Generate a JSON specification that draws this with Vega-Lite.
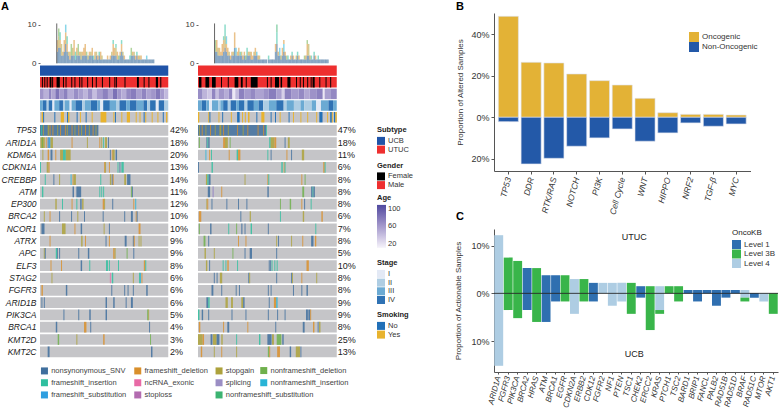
{"$schema":"https://vega.github.io/schema/vega-lite/v6.json","padding":{"left":1,"top":1,"right":0,"bottom":0},"background":"white",
"config":{"font":"Liberation Sans","view":{"stroke":null},"legend":{"symbolType":"square","labelFontSize":7.5,"labelColor":"#333","titleFontSize":7.5,"titleColor":"#222","titleFontWeight":"bold","symbolSize":64,"symbolStrokeWidth":0,"rowPadding":0.7,"labelOffset":3,"titlePadding":3,"symbolOpacity":1}},
"datasets":{
"barsL":[{"p":0.7,"b":3,"h":6,"t":"frameshift_deletion"},{"p":2.4,"b":4,"h":7,"t":"stopgain","h2":9,"t2":"nonframeshift_deletion"},{"p":4,"b":4,"h":6,"t":"frameshift_deletion","h2":8,"t2":"frameshift_insertion"},{"p":5.7,"b":2,"h":5,"t":"stopgain"},{"p":7.4,"b":2,"h":3,"t":"frameshift_deletion"},{"p":9,"b":3,"h":6,"t":"frameshift_deletion"},{"p":10.7,"b":5,"h":8,"t":"frameshift_deletion","h2":10,"t2":"nonframeshift_insertion"},{"p":12.4,"b":3,"h":5,"t":"frameshift_deletion","h2":7,"t2":"frameshift_insertion"},{"p":14,"b":2,"h":3,"t":"stopgain"},{"p":15.7,"b":1,"h":3,"t":"frameshift_deletion"},{"p":17.4,"b":2,"h":5,"t":"nonframeshift_deletion"},{"p":19,"b":2,"h":4,"t":"stopgain"},{"p":20.7,"b":2,"h":6,"t":"frameshift_deletion"},{"p":22.4,"b":1,"h":3,"t":"frameshift_insertion"},{"p":24,"b":2,"h":4,"t":"frameshift_deletion"},{"p":25.7,"b":2,"h":5,"t":"nonframeshift_deletion"},{"p":27.4,"b":2,"h":3,"t":"frameshift_deletion"},{"p":29,"b":1,"h":3,"t":"stopgain"},{"p":30.7,"b":2,"h":3,"t":"frameshift_deletion"},{"p":32.4,"b":2,"h":4,"t":"frameshift_deletion"},{"p":34,"b":2,"h":5,"t":"frameshift_deletion"},{"p":35.7,"b":2,"h":3,"t":"nonframeshift_deletion"},{"p":37.4,"b":1,"h":2,"t":"stopgain"},{"p":39,"b":2,"h":3,"t":"frameshift_deletion"},{"p":40.7,"b":2,"h":3,"t":"stopgain"},{"p":42.4,"b":2,"h":4,"t":"frameshift_deletion"},{"p":44,"b":1,"h":2,"t":"frameshift_insertion"},{"p":45.7,"b":1,"h":3,"t":"frameshift_deletion"},{"p":47.4,"b":2,"h":3,"t":"stopgain"},{"p":49,"b":1,"h":2,"t":"frameshift_deletion"},{"p":50.7,"b":2,"h":3,"t":"frameshift_insertion"},{"p":52.4,"b":1,"h":3,"t":"frameshift_deletion"},{"p":54,"b":1,"h":2,"t":"stopgain"},{"p":55.7,"b":1},{"p":57.4,"b":1},{"p":59,"b":1},{"p":60.7,"b":1,"h":2,"t":"frameshift_deletion"},{"p":62.4,"b":1},{"p":64,"b":1,"h":2,"t":"frameshift_deletion"},{"p":65.7,"b":2,"h":3,"t":"stopgain"},{"p":67.4,"b":2,"h":5,"t":"frameshift_deletion","h2":6,"t2":"frameshift_insertion"},{"p":69,"b":2,"h":4,"t":"frameshift_deletion"},{"p":70.7,"b":2,"h":4,"t":"stopgain","h2":5,"t2":"frameshift_insertion"},{"p":72.4,"b":1,"h":3,"t":"frameshift_deletion"},{"p":74,"b":1,"h":2,"t":"nonframeshift_deletion"},{"p":75.7,"b":2,"h":3,"t":"frameshift_deletion"},{"p":77.4,"b":3,"h":5,"t":"frameshift_deletion","h2":6,"t2":"frameshift_insertion"},{"p":79,"b":2,"h":3,"t":"stopgain"},{"p":80.7,"b":1,"h":2,"t":"frameshift_deletion"},{"p":82.4,"b":1},{"p":84,"b":1},{"p":85.7,"b":1},{"p":87.4,"b":1,"h":2,"t":"frameshift_insertion"},{"p":89,"b":2,"h":4,"t":"nonframeshift_deletion"},{"p":90.7,"b":2,"h":3,"t":"frameshift_deletion"},{"p":92.4,"b":2,"h":3,"t":"stopgain"},{"p":94,"b":1,"h":2,"t":"frameshift_deletion"},{"p":95.7,"b":2,"h":3,"t":"frameshift_insertion"},{"p":97.4,"b":1,"h":2,"t":"frameshift_deletion"},{"p":99,"b":1,"h":2,"t":"stopgain"},{"p":100.7,"b":1,"h":2,"t":"frameshift_deletion"},{"p":102.4,"b":1},{"p":104,"b":1},{"p":105.7,"b":1},{"p":107.4,"b":1,"h":2,"t":"nonframeshift_insertion"},{"p":109,"b":1},{"p":110.7,"b":1},{"p":112.4,"b":1},{"p":114,"b":1},{"p":115.7,"b":1}],
"barsR":[{"p":1,"b":3,"h":6,"t":"nonframeshift_deletion"},{"p":2.7,"b":3,"h":6,"t":"frameshift_deletion"},{"p":4.3,"b":2,"h":4,"t":"stopgain"},{"p":6,"b":2,"h":4,"t":"frameshift_deletion"},{"p":7.7,"b":2,"h":3,"t":"frameshift_deletion"},{"p":9.3,"b":2,"h":5,"t":"frameshift_deletion"},{"p":11,"b":3,"h":6,"t":"frameshift_deletion","h2":7,"t2":"frameshift_insertion"},{"p":12.7,"b":4,"h":7,"t":"stopgain","h2":10,"t2":"frameshift_insertion"},{"p":14.3,"b":3,"h":5,"t":"frameshift_deletion","h2":7,"t2":"nonframeshift_insertion"},{"p":16,"b":2,"h":4,"t":"frameshift_deletion"},{"p":17.7,"b":2,"h":3,"t":"stopgain"},{"p":19.3,"b":1,"h":2,"t":"frameshift_deletion"},{"p":21,"b":2,"h":3,"t":"frameshift_deletion"},{"p":22.7,"b":2,"h":3,"t":"stopgain"},{"p":24.3,"b":4,"h":8,"t":"frameshift_deletion"},{"p":26,"b":2,"h":4,"t":"nonframeshift_insertion"},{"p":27.7,"b":2,"h":3,"t":"frameshift_deletion"},{"p":29.3,"b":2,"h":4,"t":"frameshift_deletion"},{"p":31,"b":2,"h":3,"t":"frameshift_insertion"},{"p":32.7,"b":2,"h":3,"t":"stopgain"},{"p":34.3,"b":1,"h":2,"t":"frameshift_deletion"},{"p":36,"b":2,"h":3,"t":"frameshift_deletion"},{"p":37.7,"b":1,"h":2,"t":"nonframeshift_deletion"},{"p":39.3,"b":2,"h":4,"t":"frameshift_insertion"},{"p":41,"b":2,"h":3,"t":"frameshift_deletion"},{"p":42.7,"b":2,"h":3,"t":"stopgain"},{"p":44.3,"b":1,"h":3,"t":"frameshift_deletion"},{"p":46,"b":1,"h":2,"t":"frameshift_deletion"},{"p":47.7,"b":2,"h":3,"t":"stopgain"},{"p":49.3,"b":2,"h":4,"t":"frameshift_deletion"},{"p":51,"b":2,"h":3,"t":"nonframeshift_insertion"},{"p":52.7,"b":1,"h":2,"t":"frameshift_deletion"},{"p":54.3,"b":1,"h":2,"t":"stopgain"},{"p":56,"b":1},{"p":57.7,"b":1},{"p":59.3,"b":1},{"p":61,"b":1},{"p":62.7,"b":1},{"p":65.3,"b":1,"h":2,"t":"frameshift_insertion"},{"p":67,"b":1},{"p":68.7,"b":1},{"p":70.3,"b":1},{"p":72,"b":1},{"p":73.7,"b":3,"h":5,"t":"frameshift_deletion"},{"p":75.3,"b":5,"h":8,"t":"frameshift_insertion","h2":10,"t2":"nonframeshift_substitution"},{"p":77,"b":2,"h":3,"t":"frameshift_deletion"},{"p":78.7,"b":2,"h":4,"t":"nonframeshift_insertion"},{"p":80.3,"b":1,"h":2,"t":"stopgain"},{"p":82,"b":2,"h":4,"t":"frameshift_deletion"},{"p":83.7,"b":3,"h":5,"t":"nonframeshift_insertion","h2":6,"t2":"frameshift_deletion"},{"p":85.3,"b":2,"h":3,"t":"frameshift_deletion"},{"p":87,"b":1,"h":2,"t":"stopgain"},{"p":88.7,"b":1,"h":2,"t":"frameshift_insertion"},{"p":90.3,"b":1},{"p":92,"b":1,"h":2,"t":"frameshift_deletion"},{"p":93.7,"b":2,"h":3,"t":"frameshift_insertion"},{"p":95.3,"b":1,"h":2,"t":"frameshift_deletion"},{"p":97,"b":1},{"p":98.7,"b":1,"h":2,"t":"stopgain"},{"p":100.3,"b":2,"h":3,"t":"frameshift_insertion"},{"p":102,"b":1,"h":2,"t":"frameshift_deletion"},{"p":103.7,"b":1},{"p":105.3,"b":1},{"p":107,"b":1},{"p":108.7,"b":1,"h":2,"t":"nonframeshift_deletion"},{"p":110.3,"b":1,"h":2,"t":"frameshift_deletion"},{"p":112,"b":2,"h":5,"t":"frameshift_deletion","h2":6,"t2":"nonframeshift_deletion"},{"p":113.7,"b":2,"h":5,"t":"stopgain"},{"p":115.3,"b":1,"h":2,"t":"frameshift_deletion"},{"p":117,"b":1,"h":2,"t":"frameshift_insertion"},{"p":118.7,"b":1},{"p":120.3,"b":2,"h":3,"t":"frameshift_insertion"},{"p":122,"b":1,"h":2,"t":"frameshift_deletion"},{"p":123.7,"b":1},{"p":125.3,"b":1,"h":2,"t":"frameshift_insertion"},{"p":127,"b":1},{"p":128.7,"b":1},{"p":130.3,"b":1},{"p":132,"b":1},{"p":133.7,"b":1},{"p":135.3,"b":1},{"p":137,"b":1}],
"genderL":[{"tr":"Gender","s":0,"e":134,"v":"Male"},{"tr":"Gender","s":2,"e":3,"v":"Female"},{"tr":"Gender","s":4.5,"e":5.5,"v":"Female"},{"tr":"Gender","s":7,"e":8,"v":"Female"},{"tr":"Gender","s":10,"e":12,"v":"Female"},{"tr":"Gender","s":12.7,"e":13.7,"v":"Female"},{"tr":"Gender","s":17.3,"e":20.7,"v":"Female"},{"tr":"Gender","s":24,"e":25,"v":"Female"},{"tr":"Gender","s":26.7,"e":27.7,"v":"Female"},{"tr":"Gender","s":32.7,"e":33.7,"v":"Female"},{"tr":"Gender","s":36,"e":37,"v":"Female"},{"tr":"Gender","s":41,"e":42,"v":"Female"},{"tr":"Gender","s":43.3,"e":44.3,"v":"Female"},{"tr":"Gender","s":49.3,"e":50.3,"v":"Female"},{"tr":"Gender","s":54.3,"e":55.3,"v":"Female"},{"tr":"Gender","s":58.3,"e":59.3,"v":"Female"},{"tr":"Gender","s":64.7,"e":65.7,"v":"Female"},{"tr":"Gender","s":72.3,"e":73.3,"v":"Female"},{"tr":"Gender","s":77.7,"e":78.7,"v":"Female"},{"tr":"Gender","s":79.3,"e":80.3,"v":"Female"},{"tr":"Gender","s":88.3,"e":89.3,"v":"Female"},{"tr":"Gender","s":101.3,"e":103.3,"v":"Female"},{"tr":"Gender","s":108.3,"e":109.3,"v":"Female"},{"tr":"Gender","s":113.3,"e":114.3,"v":"Female"},{"tr":"Gender","s":121,"e":123.3,"v":"Female"},{"tr":"Gender","s":125.7,"e":126.7,"v":"Female"}],
"genderR":[{"tr":"Gender","s":0,"e":149,"v":"Male"},{"tr":"Gender","s":1,"e":3.7,"v":"Female"},{"tr":"Gender","s":8,"e":12,"v":"Female"},{"tr":"Gender","s":15,"e":19,"v":"Female"},{"tr":"Gender","s":24.7,"e":25.7,"v":"Female"},{"tr":"Gender","s":32,"e":33,"v":"Female"},{"tr":"Gender","s":39.3,"e":43.3,"v":"Female"},{"tr":"Gender","s":46,"e":48,"v":"Female"},{"tr":"Gender","s":51.3,"e":52.3,"v":"Female"},{"tr":"Gender","s":56.7,"e":64,"v":"Female"},{"tr":"Gender","s":74,"e":75,"v":"Female"},{"tr":"Gender","s":78,"e":79,"v":"Female"},{"tr":"Gender","s":82.7,"e":87,"v":"Female"},{"tr":"Gender","s":88.7,"e":90.3,"v":"Female"},{"tr":"Gender","s":96,"e":99.3,"v":"Female"},{"tr":"Gender","s":105.3,"e":106.3,"v":"Female"},{"tr":"Gender","s":109.3,"e":110.3,"v":"Female"},{"tr":"Gender","s":112.7,"e":113.7,"v":"Female"},{"tr":"Gender","s":117.3,"e":118.3,"v":"Female"},{"tr":"Gender","s":121,"e":122,"v":"Female"},{"tr":"Gender","s":123,"e":125.3,"v":"Female"},{"tr":"Gender","s":130.3,"e":131.3,"v":"Female"},{"tr":"Gender","s":137,"e":138,"v":"Female"},{"tr":"Gender","s":142,"e":143,"v":"Female"}],
"ageL":[{"tr":"Age","s":0,"e":4,"v":62},{"tr":"Age","s":4,"e":9,"v":50},{"tr":"Age","s":9,"e":12,"v":70},{"tr":"Age","s":12,"e":16,"v":55},{"tr":"Age","s":16,"e":20,"v":78},{"tr":"Age","s":20,"e":25,"v":60},{"tr":"Age","s":25,"e":29,"v":72},{"tr":"Age","s":29,"e":35,"v":52},{"tr":"Age","s":35,"e":40,"v":66},{"tr":"Age","s":40,"e":45,"v":58},{"tr":"Age","s":45,"e":50,"v":48},{"tr":"Age","s":50,"e":55,"v":64},{"tr":"Age","s":55,"e":59,"v":44},{"tr":"Age","s":59,"e":65,"v":60},{"tr":"Age","s":65,"e":71,"v":72},{"tr":"Age","s":71,"e":76,"v":56},{"tr":"Age","s":76,"e":81,"v":80},{"tr":"Age","s":81,"e":85,"v":62},{"tr":"Age","s":85,"e":90,"v":52},{"tr":"Age","s":90,"e":95,"v":68},{"tr":"Age","s":95,"e":101,"v":74},{"tr":"Age","s":101,"e":106,"v":58},{"tr":"Age","s":106,"e":111,"v":70},{"tr":"Age","s":111,"e":116,"v":56},{"tr":"Age","s":116,"e":121,"v":62},{"tr":"Age","s":121,"e":126,"v":76},{"tr":"Age","s":126,"e":130,"v":60},{"tr":"Age","s":130,"e":134,"v":46}],
"ageR":[{"tr":"Age","s":0,"e":5,"v":66},{"tr":"Age","s":5,"e":10,"v":48},{"tr":"Age","s":10,"e":15,"v":40},{"tr":"Age","s":15,"e":19,"v":70},{"tr":"Age","s":19,"e":22,"v":44},{"tr":"Age","s":22,"e":28,"v":62},{"tr":"Age","s":28,"e":33,"v":52},{"tr":"Age","s":33,"e":37,"v":70},{"tr":"Age","s":37,"e":40,"v":25},{"tr":"Age","s":40,"e":44,"v":45},{"tr":"Age","s":44,"e":50,"v":72},{"tr":"Age","s":50,"e":56,"v":60},{"tr":"Age","s":56,"e":62,"v":68},{"tr":"Age","s":62,"e":70,"v":56},{"tr":"Age","s":70,"e":76,"v":64},{"tr":"Age","s":76,"e":84,"v":74},{"tr":"Age","s":84,"e":90,"v":58},{"tr":"Age","s":90,"e":93,"v":36},{"tr":"Age","s":93,"e":100,"v":72},{"tr":"Age","s":100,"e":108,"v":60},{"tr":"Age","s":108,"e":114,"v":68},{"tr":"Age","s":114,"e":120,"v":54},{"tr":"Age","s":120,"e":127,"v":64},{"tr":"Age","s":127,"e":134,"v":72},{"tr":"Age","s":134,"e":136,"v":25},{"tr":"Age","s":136,"e":142,"v":58},{"tr":"Age","s":142,"e":149,"v":68}],
"stageL":[{"tr":"Stage","s":0,"e":3,"v":"III"},{"tr":"Stage","s":3,"e":7,"v":"IV"},{"tr":"Stage","s":7,"e":9,"v":"II"},{"tr":"Stage","s":9,"e":13,"v":"IV"},{"tr":"Stage","s":13,"e":15,"v":"I"},{"tr":"Stage","s":15,"e":20,"v":"III"},{"tr":"Stage","s":20,"e":24,"v":"IV"},{"tr":"Stage","s":24,"e":26,"v":"II"},{"tr":"Stage","s":26,"e":31,"v":"III"},{"tr":"Stage","s":31,"e":33,"v":"I"},{"tr":"Stage","s":33,"e":37,"v":"III"},{"tr":"Stage","s":37,"e":44,"v":"IV"},{"tr":"Stage","s":44,"e":47,"v":"II"},{"tr":"Stage","s":47,"e":53,"v":"III"},{"tr":"Stage","s":53,"e":60,"v":"IV"},{"tr":"Stage","s":60,"e":63,"v":"III"},{"tr":"Stage","s":63,"e":66,"v":"I"},{"tr":"Stage","s":66,"e":73,"v":"IV"},{"tr":"Stage","s":73,"e":80,"v":"III"},{"tr":"Stage","s":80,"e":83,"v":"II"},{"tr":"Stage","s":83,"e":90,"v":"IV"},{"tr":"Stage","s":90,"e":94,"v":"III"},{"tr":"Stage","s":94,"e":101,"v":"IV"},{"tr":"Stage","s":101,"e":108,"v":"III"},{"tr":"Stage","s":108,"e":112,"v":"IV"},{"tr":"Stage","s":112,"e":115,"v":"II"},{"tr":"Stage","s":115,"e":121,"v":"IV"},{"tr":"Stage","s":121,"e":124,"v":"I"},{"tr":"Stage","s":124,"e":130,"v":"IV"},{"tr":"Stage","s":130,"e":134,"v":"II"}],
"stageR":[{"tr":"Stage","s":0,"e":4,"v":"III"},{"tr":"Stage","s":4,"e":9,"v":"IV"},{"tr":"Stage","s":9,"e":12,"v":"III"},{"tr":"Stage","s":12,"e":15,"v":"I"},{"tr":"Stage","s":15,"e":22,"v":"III"},{"tr":"Stage","s":22,"e":24,"v":"II"},{"tr":"Stage","s":24,"e":27,"v":"III"},{"tr":"Stage","s":27,"e":32,"v":"IV"},{"tr":"Stage","s":32,"e":35,"v":"II"},{"tr":"Stage","s":35,"e":41,"v":"IV"},{"tr":"Stage","s":41,"e":44,"v":"III"},{"tr":"Stage","s":44,"e":50,"v":"IV"},{"tr":"Stage","s":50,"e":53,"v":"II"},{"tr":"Stage","s":53,"e":60,"v":"IV"},{"tr":"Stage","s":60,"e":65,"v":"III"},{"tr":"Stage","s":65,"e":70,"v":"IV"},{"tr":"Stage","s":70,"e":76,"v":"II"},{"tr":"Stage","s":76,"e":84,"v":"III"},{"tr":"Stage","s":84,"e":92,"v":"IV"},{"tr":"Stage","s":92,"e":95,"v":"II"},{"tr":"Stage","s":95,"e":103,"v":"III"},{"tr":"Stage","s":103,"e":110,"v":"II"},{"tr":"Stage","s":110,"e":114,"v":"III"},{"tr":"Stage","s":114,"e":122,"v":"II"},{"tr":"Stage","s":122,"e":127,"v":"III"},{"tr":"Stage","s":127,"e":132,"v":"I"},{"tr":"Stage","s":132,"e":140,"v":"III"},{"tr":"Stage","s":140,"e":145,"v":"IV"},{"tr":"Stage","s":145,"e":149,"v":"III"}],
"smokeL":[{"tr":"Smoking","s":1.7,"e":3.3,"v":"Yes"},{"tr":"Smoking","s":21.7,"e":25,"v":"Yes"},{"tr":"Smoking","s":29.3,"e":30.7,"v":"Yes"},{"tr":"Smoking","s":41.7,"e":42.7,"v":"Yes"},{"tr":"Smoking","s":54,"e":55,"v":"Yes"},{"tr":"Smoking","s":63.3,"e":69.3,"v":"Yes"},{"tr":"Smoking","s":76.7,"e":77.7,"v":"Yes"},{"tr":"Smoking","s":85,"e":86,"v":"Yes"},{"tr":"Smoking","s":90.7,"e":94,"v":"Yes"},{"tr":"Smoking","s":100,"e":101,"v":"Yes"},{"tr":"Smoking","s":104,"e":105,"v":"Yes"},{"tr":"Smoking","s":110,"e":111,"v":"Yes"},{"tr":"Smoking","s":116.7,"e":117.7,"v":"Yes"},{"tr":"Smoking","s":122.7,"e":123.7,"v":"Yes"},{"tr":"Smoking","s":131.7,"e":133,"v":"Yes"},{"tr":"Smoking","s":3.3,"e":4.3,"v":"No"},{"tr":"Smoking","s":15,"e":16,"v":"No"},{"tr":"Smoking","s":28.3,"e":29.3,"v":"No"},{"tr":"Smoking","s":38.3,"e":39.3,"v":"No"},{"tr":"Smoking","s":47.7,"e":48.7,"v":"No"},{"tr":"Smoking","s":78.3,"e":79.3,"v":"No"},{"tr":"Smoking","s":108.3,"e":109.3,"v":"No"},{"tr":"Smoking","s":128.3,"e":129.3,"v":"No"}],
"smokeR":[{"tr":"Smoking","s":0,"e":1.3,"v":"Yes"},{"tr":"Smoking","s":11,"e":12.3,"v":"Yes"},{"tr":"Smoking","s":12.3,"e":13.3,"v":"No"},{"tr":"Smoking","s":22,"e":23,"v":"Yes"},{"tr":"Smoking","s":26,"e":27,"v":"No"},{"tr":"Smoking","s":35.3,"e":36.3,"v":"Yes"},{"tr":"Smoking","s":42,"e":44.7,"v":"No"},{"tr":"Smoking","s":47.3,"e":48.3,"v":"Yes"},{"tr":"Smoking","s":50.3,"e":51.3,"v":"Yes"},{"tr":"Smoking","s":53.7,"e":55.3,"v":"Yes"},{"tr":"Smoking","s":62.7,"e":63.7,"v":"No"},{"tr":"Smoking","s":68,"e":71.3,"v":"Yes"},{"tr":"Smoking","s":78,"e":79,"v":"No"},{"tr":"Smoking","s":82.7,"e":83.7,"v":"No"},{"tr":"Smoking","s":87.7,"e":88.7,"v":"Yes"},{"tr":"Smoking","s":97.3,"e":98.3,"v":"No"},{"tr":"Smoking","s":102,"e":103,"v":"Yes"},{"tr":"Smoking","s":110,"e":111,"v":"Yes"},{"tr":"Smoking","s":117.3,"e":118.3,"v":"Yes"},{"tr":"Smoking","s":127,"e":128,"v":"Yes"},{"tr":"Smoking","s":130.3,"e":133.7,"v":"No"},{"tr":"Smoking","s":138.7,"e":139.7,"v":"Yes"},{"tr":"Smoking","s":142,"e":143.7,"v":"No"},{"tr":"Smoking","s":143.7,"e":144.7,"v":"Yes"},{"tr":"Smoking","s":146,"e":147.5,"v":"No"},{"tr":"Smoking","s":147.5,"e":149,"v":"Yes"}],
"rowsL":[{"g":"TP53","p":"42%","n":134},{"g":"ARID1A","p":"18%","n":134},{"g":"KDM6A","p":"20%","n":134},{"g":"CDKN1A","p":"13%","n":134},{"g":"CREBBP","p":"14%","n":134},{"g":"ATM","p":"11%","n":134},{"g":"EP300","p":"12%","n":134},{"g":"BRCA2","p":"10%","n":134},{"g":"NCOR1","p":"10%","n":134},{"g":"ATRX","p":"9%","n":134},{"g":"APC","p":"9%","n":134},{"g":"ELF3","p":"8%","n":134},{"g":"STAG2","p":"6%","n":134},{"g":"FGFR3","p":"6%","n":134},{"g":"ARID1B","p":"6%","n":134},{"g":"PIK3CA","p":"5%","n":134},{"g":"BRCA1","p":"4%","n":134},{"g":"KMT2D","p":"3%","n":134},{"g":"KMT2C","p":"2%","n":134}],
"rowsR":[{"g":"TP53","p":"47%","n":149},{"g":"ARID1A","p":"18%","n":149},{"g":"KDM6A","p":"11%","n":149},{"g":"CDKN1A","p":"6%","n":149},{"g":"CREBBP","p":"8%","n":149},{"g":"ATM","p":"8%","n":149},{"g":"EP300","p":"8%","n":149},{"g":"BRCA2","p":"6%","n":149},{"g":"NCOR1","p":"7%","n":149},{"g":"ATRX","p":"8%","n":149},{"g":"APC","p":"5%","n":149},{"g":"ELF3","p":"10%","n":149},{"g":"STAG2","p":"8%","n":149},{"g":"FGFR3","p":"8%","n":149},{"g":"ARID1B","p":"9%","n":149},{"g":"PIK3CA","p":"9%","n":149},{"g":"BRCA1","p":"8%","n":149},{"g":"KMT2D","p":"25%","n":149},{"g":"KMT2C","p":"13%","n":149}],
"mutL":[{"g":"TP53","s":0,"e":61,"t":"nonsynonymous_SNV"},{"g":"TP53","s":1,"e":2,"t":"frameshift_insertion"},{"g":"TP53","s":3,"e":4,"t":"stopgain"},{"g":"TP53","s":8,"e":9.5,"t":"stopgain"},{"g":"TP53","s":10,"e":11,"t":"frameshift_deletion"},{"g":"TP53","s":13,"e":14,"t":"frameshift_deletion"},{"g":"TP53","s":18,"e":19,"t":"stopgain"},{"g":"TP53","s":21,"e":22,"t":"frameshift_deletion"},{"g":"TP53","s":26,"e":27,"t":"frameshift_deletion"},{"g":"TP53","s":28,"e":29,"t":"stopgain"},{"g":"TP53","s":33,"e":34,"t":"frameshift_deletion"},{"g":"TP53","s":36,"e":37,"t":"stopgain"},{"g":"TP53","s":40,"e":41,"t":"frameshift_deletion"},{"g":"TP53","s":43,"e":44,"t":"stopgain"},{"g":"TP53","s":47,"e":48,"t":"frameshift_deletion"},{"g":"TP53","s":51,"e":52,"t":"stopgain"},{"g":"TP53","s":55,"e":56,"t":"frameshift_deletion"},{"g":"TP53","s":58,"e":59,"t":"stopgain"},
{"g":"ARID1A","s":0.5,"e":5,"t":"stopgain"},{"g":"ARID1A","s":2,"e":3,"t":"nonframeshift_deletion"},{"g":"ARID1A","s":6,"e":7,"t":"frameshift_deletion"},{"g":"ARID1A","s":8,"e":9,"t":"nonsynonymous_SNV"},{"g":"ARID1A","s":9,"e":11,"t":"frameshift_substitution"},{"g":"ARID1A","s":11,"e":13.5,"t":"stopgain"},{"g":"ARID1A","s":33,"e":34,"t":"frameshift_deletion"},{"g":"ARID1A","s":49,"e":50,"t":"stopgain"},{"g":"ARID1A","s":62,"e":63,"t":"frameshift_deletion"},{"g":"ARID1A","s":64,"e":65,"t":"stopgain"},{"g":"ARID1A","s":66,"e":67,"t":"frameshift_insertion"},{"g":"ARID1A","s":68,"e":70,"t":"stopgain"},{"g":"ARID1A","s":71,"e":72,"t":"nonsynonymous_SNV"},
{"g":"KDM6A","s":2.5,"e":3.5,"t":"stopgain"},{"g":"KDM6A","s":8,"e":9.5,"t":"frameshift_deletion"},{"g":"KDM6A","s":11,"e":13,"t":"nonsynonymous_SNV"},{"g":"KDM6A","s":16,"e":17,"t":"frameshift_deletion"},{"g":"KDM6A","s":21,"e":24,"t":"stopgain"},{"g":"KDM6A","s":24,"e":27,"t":"frameshift_insertion"},{"g":"KDM6A","s":27,"e":32,"t":"stopgain"},{"g":"KDM6A","s":73,"e":74,"t":"nonsynonymous_SNV"},{"g":"KDM6A","s":75,"e":76,"t":"frameshift_deletion"},{"g":"KDM6A","s":76,"e":78,"t":"stopgain"},{"g":"KDM6A","s":79,"e":80.5,"t":"nonsynonymous_SNV"},
{"g":"CDKN1A","s":0,"e":1,"t":"frameshift_insertion"},{"g":"CDKN1A","s":7,"e":9,"t":"stopgain"},{"g":"CDKN1A","s":9,"e":10,"t":"frameshift_deletion"},{"g":"CDKN1A","s":67,"e":68,"t":"frameshift_deletion"},{"g":"CDKN1A","s":68,"e":69,"t":"stopgain"},{"g":"CDKN1A","s":72,"e":73,"t":"frameshift_deletion"},{"g":"CDKN1A","s":81,"e":82,"t":"frameshift_insertion"},{"g":"CDKN1A","s":83,"e":84,"t":"nonsynonymous_SNV"},{"g":"CDKN1A","s":85,"e":87.5,"t":"frameshift_insertion"},
{"g":"CREBBP","s":5,"e":6,"t":"frameshift_insertion"},{"g":"CREBBP","s":14,"e":15,"t":"nonsynonymous_SNV"},{"g":"CREBBP","s":20,"e":21,"t":"stopgain"},{"g":"CREBBP","s":32,"e":33,"t":"nonframeshift_insertion"},{"g":"CREBBP","s":34,"e":35,"t":"frameshift_deletion"},{"g":"CREBBP","s":35,"e":37.5,"t":"stopgain"},{"g":"CREBBP","s":63,"e":64,"t":"frameshift_insertion"},{"g":"CREBBP","s":73,"e":74.5,"t":"stopgain"},{"g":"CREBBP","s":75,"e":76,"t":"nonsynonymous_SNV"},{"g":"CREBBP","s":76,"e":77,"t":"frameshift_deletion"},{"g":"CREBBP","s":88,"e":90,"t":"stopgain"},{"g":"CREBBP","s":91,"e":94.5,"t":"nonsynonymous_SNV"},
{"g":"ATM","s":2,"e":3.5,"t":"frameshift_insertion"},{"g":"ATM","s":34,"e":35.5,"t":"nonsynonymous_SNV"},{"g":"ATM","s":38,"e":43,"t":"nonsynonymous_SNV"},{"g":"ATM","s":62,"e":63,"t":"frameshift_insertion"},{"g":"ATM","s":64,"e":65,"t":"frameshift_insertion"},{"g":"ATM","s":66,"e":67,"t":"frameshift_insertion"},{"g":"ATM","s":95,"e":96,"t":"nonframeshift_deletion"},{"g":"ATM","s":96,"e":97,"t":"nonsynonymous_SNV"},
{"g":"EP300","s":16,"e":17.5,"t":"stopgain"},{"g":"EP300","s":23,"e":24,"t":"frameshift_insertion"},{"g":"EP300","s":33,"e":34,"t":"frameshift_deletion"},{"g":"EP300","s":38,"e":39,"t":"frameshift_insertion"},{"g":"EP300","s":42,"e":43.5,"t":"nonsynonymous_SNV"},{"g":"EP300","s":44,"e":45.5,"t":"stopgain"},{"g":"EP300","s":65.5,"e":67,"t":"frameshift_deletion"},{"g":"EP300","s":67,"e":68,"t":"stopgain"},{"g":"EP300","s":75.5,"e":76.5,"t":"nonsynonymous_SNV"},{"g":"EP300","s":97.5,"e":98.5,"t":"frameshift_deletion"},{"g":"EP300","s":99.5,"e":100.5,"t":"nonframeshift_insertion"},
{"g":"BRCA2","s":4,"e":5,"t":"stopgain"},{"g":"BRCA2","s":10,"e":11,"t":"frameshift_deletion"},{"g":"BRCA2","s":20,"e":21,"t":"nonsynonymous_SNV"},{"g":"BRCA2","s":32.5,"e":33.5,"t":"nonsynonymous_SNV"},{"g":"BRCA2","s":39,"e":40,"t":"stopgain"},{"g":"BRCA2","s":46,"e":47,"t":"nonsynonymous_SNV"},{"g":"BRCA2","s":65.5,"e":66.5,"t":"nonsynonymous_SNV"},{"g":"BRCA2","s":88,"e":89,"t":"nonsynonymous_SNV"},{"g":"BRCA2","s":95,"e":97,"t":"nonsynonymous_SNV"},{"g":"BRCA2","s":100,"e":101,"t":"frameshift_deletion"},{"g":"BRCA2","s":101,"e":102,"t":"nonsynonymous_SNV"},
{"g":"NCOR1","s":1.5,"e":4.7,"t":"nonsynonymous_SNV"},{"g":"NCOR1","s":23,"e":26.7,"t":"stopgain"},{"g":"NCOR1","s":36,"e":37,"t":"frameshift_deletion"},{"g":"NCOR1","s":42.5,"e":44,"t":"nonsynonymous_SNV"},{"g":"NCOR1","s":66.5,"e":67.5,"t":"stopgain"},{"g":"NCOR1","s":72,"e":73,"t":"nonsynonymous_SNV"},{"g":"NCOR1","s":103,"e":105,"t":"frameshift_deletion"},
{"g":"ATRX","s":10,"e":11,"t":"frameshift_deletion"},{"g":"ATRX","s":43,"e":44.5,"t":"stopgain"},{"g":"ATRX","s":47,"e":48,"t":"frameshift_deletion"},{"g":"ATRX","s":68.5,"e":69.5,"t":"nonsynonymous_SNV"},{"g":"ATRX","s":72,"e":73,"t":"frameshift_deletion"},{"g":"ATRX","s":88.5,"e":90.5,"t":"nonsynonymous_SNV"},{"g":"ATRX","s":97,"e":98,"t":"nonsynonymous_SNV"},{"g":"ATRX","s":98,"e":99,"t":"frameshift_deletion"},{"g":"ATRX","s":103,"e":104,"t":"stopgain"},{"g":"ATRX","s":105,"e":106,"t":"stopgain"},
{"g":"APC","s":4,"e":5,"t":"stopgain"},{"g":"APC","s":5,"e":6,"t":"nonsynonymous_SNV"},{"g":"APC","s":16.5,"e":18,"t":"frameshift_insertion"},{"g":"APC","s":18,"e":18.8,"t":"nonsynonymous_SNV"},{"g":"APC","s":20,"e":21,"t":"nonsynonymous_SNV"},{"g":"APC","s":40,"e":41,"t":"nonsynonymous_SNV"},{"g":"APC","s":50,"e":51.5,"t":"nonsynonymous_SNV"},{"g":"APC","s":76.5,"e":78,"t":"frameshift_deletion"},{"g":"APC","s":78,"e":79,"t":"stopgain"},{"g":"APC","s":90.5,"e":91.5,"t":"nonframeshift_deletion"},{"g":"APC","s":97.5,"e":98.5,"t":"nonsynonymous_SNV"},
{"g":"ELF3","s":11,"e":12,"t":"frameshift_deletion"},{"g":"ELF3","s":22,"e":23,"t":"frameshift_deletion"},{"g":"ELF3","s":42.5,"e":44,"t":"nonsynonymous_SNV"},{"g":"ELF3","s":51.5,"e":52.5,"t":"frameshift_insertion"},{"g":"ELF3","s":69,"e":71,"t":"frameshift_insertion"},{"g":"ELF3","s":72,"e":73,"t":"frameshift_insertion"},{"g":"ELF3","s":81.5,"e":82.5,"t":"frameshift_insertion"},{"g":"ELF3","s":108.5,"e":110,"t":"frameshift_deletion"},{"g":"ELF3","s":110,"e":111,"t":"frameshift_insertion"},
{"g":"STAG2","s":12,"e":13,"t":"stopgain"},{"g":"STAG2","s":73,"e":74,"t":"ncRNA_exonic"},{"g":"STAG2","s":75,"e":76.5,"t":"frameshift_insertion"},{"g":"STAG2","s":97,"e":98,"t":"stopgain"},{"g":"STAG2","s":103.5,"e":104.5,"t":"frameshift_insertion"},{"g":"STAG2","s":104.5,"e":105.5,"t":"nonframeshift_insertion"},{"g":"STAG2","s":106,"e":107,"t":"frameshift_deletion"},
{"g":"FGFR3","s":1.5,"e":3,"t":"frameshift_deletion"},{"g":"FGFR3","s":27,"e":28.5,"t":"nonsynonymous_SNV"},{"g":"FGFR3","s":74.5,"e":75.5,"t":"nonsynonymous_SNV"},{"g":"FGFR3","s":88,"e":89,"t":"nonsynonymous_SNV"},{"g":"FGFR3","s":91.5,"e":92.5,"t":"nonsynonymous_SNV"},{"g":"FGFR3","s":97,"e":98,"t":"nonsynonymous_SNV"},{"g":"FGFR3","s":111,"e":112.5,"t":"nonsynonymous_SNV"},
{"g":"ARID1B","s":1.5,"e":2.5,"t":"nonsynonymous_SNV"},{"g":"ARID1B","s":4,"e":5,"t":"nonsynonymous_SNV"},{"g":"ARID1B","s":68.5,"e":70,"t":"nonsynonymous_SNV"},{"g":"ARID1B","s":76.5,"e":78,"t":"nonsynonymous_SNV"},{"g":"ARID1B","s":89.5,"e":90.5,"t":"nonsynonymous_SNV"},{"g":"ARID1B","s":95,"e":97,"t":"nonsynonymous_SNV"},
{"g":"PIK3CA","s":24.5,"e":25.5,"t":"nonsynonymous_SNV"},{"g":"PIK3CA","s":40,"e":41,"t":"nonsynonymous_SNV"},{"g":"PIK3CA","s":51.5,"e":53,"t":"nonsynonymous_SNV"},{"g":"PIK3CA","s":68.5,"e":70,"t":"nonsynonymous_SNV"},{"g":"PIK3CA","s":112,"e":113,"t":"nonframeshift_deletion"},{"g":"PIK3CA","s":113,"e":114,"t":"stopgain"},
{"g":"BRCA1","s":16.5,"e":18,"t":"nonsynonymous_SNV"},{"g":"BRCA1","s":46,"e":48.5,"t":"frameshift_deletion"},{"g":"BRCA1","s":52.5,"e":53.5,"t":"nonsynonymous_SNV"},{"g":"BRCA1","s":114,"e":115,"t":"nonsynonymous_SNV"},
{"g":"KMT2D","s":18.5,"e":20,"t":"nonframeshift_deletion"},{"g":"KMT2D","s":38,"e":39,"t":"stopgain"},{"g":"KMT2D","s":66,"e":67.5,"t":"frameshift_deletion"},{"g":"KMT2D","s":115,"e":116,"t":"nonframeshift_deletion"},
{"g":"KMT2C","s":8,"e":10,"t":"nonsynonymous_SNV"},{"g":"KMT2C","s":116,"e":117.5,"t":"nonsynonymous_SNV"}],
"mutR":[{"g":"TP53","s":0,"e":73,"t":"nonsynonymous_SNV"},{"g":"TP53","s":1,"e":2,"t":"stopgain"},{"g":"TP53","s":4,"e":5,"t":"frameshift_deletion"},{"g":"TP53","s":8,"e":9,"t":"stopgain"},{"g":"TP53","s":13,"e":14,"t":"frameshift_deletion"},{"g":"TP53","s":18,"e":19,"t":"stopgain"},{"g":"TP53","s":23,"e":25,"t":"stopgain"},{"g":"TP53","s":27,"e":28,"t":"frameshift_deletion"},{"g":"TP53","s":32,"e":33,"t":"stopgain"},{"g":"TP53","s":42,"e":43,"t":"frameshift_deletion"},{"g":"TP53","s":48,"e":49,"t":"stopgain"},{"g":"TP53","s":53,"e":54,"t":"frameshift_deletion"},{"g":"TP53","s":64,"e":65,"t":"frameshift_deletion"},{"g":"TP53","s":70,"e":71,"t":"frameshift_deletion"},{"g":"TP53","s":73,"e":74,"t":"frameshift_insertion"},
{"g":"ARID1A","s":1,"e":2,"t":"nonframeshift_deletion"},{"g":"ARID1A","s":9,"e":10,"t":"nonsynonymous_SNV"},{"g":"ARID1A","s":10,"e":11,"t":"frameshift_insertion"},{"g":"ARID1A","s":11,"e":12.5,"t":"nonsynonymous_SNV"},{"g":"ARID1A","s":27,"e":29,"t":"frameshift_deletion"},{"g":"ARID1A","s":29,"e":32,"t":"stopgain"},{"g":"ARID1A","s":34,"e":35,"t":"nonframeshift_deletion"},{"g":"ARID1A","s":76.5,"e":78,"t":"frameshift_insertion"},{"g":"ARID1A","s":78,"e":82,"t":"stopgain"},{"g":"ARID1A","s":82,"e":84,"t":"frameshift_deletion"},{"g":"ARID1A","s":93,"e":94,"t":"nonsynonymous_SNV"},{"g":"ARID1A","s":96.5,"e":98.5,"t":"stopgain"},
{"g":"KDM6A","s":8,"e":9,"t":"nonframeshift_insertion"},{"g":"KDM6A","s":12,"e":13,"t":"frameshift_deletion"},{"g":"KDM6A","s":14,"e":15,"t":"frameshift_insertion"},{"g":"KDM6A","s":33,"e":34,"t":"frameshift_deletion"},{"g":"KDM6A","s":41.5,"e":43,"t":"frameshift_insertion"},{"g":"KDM6A","s":43,"e":45.5,"t":"frameshift_deletion"},{"g":"KDM6A","s":74.5,"e":75.5,"t":"frameshift_insertion"},{"g":"KDM6A","s":78,"e":79,"t":"nonsynonymous_SNV"},{"g":"KDM6A","s":95,"e":96,"t":"frameshift_deletion"},{"g":"KDM6A","s":100,"e":101,"t":"nonsynonymous_SNV"},{"g":"KDM6A","s":111.5,"e":114,"t":"stopgain"},
{"g":"CDKN1A","s":0,"e":1,"t":"nonsynonymous_SNV"},{"g":"CDKN1A","s":14.5,"e":16,"t":"frameshift_insertion"},{"g":"CDKN1A","s":89.5,"e":91,"t":"frameshift_insertion"},{"g":"CDKN1A","s":92,"e":93,"t":"frameshift_deletion"},{"g":"CDKN1A","s":93,"e":94,"t":"frameshift_insertion"},{"g":"CDKN1A","s":134.5,"e":136,"t":"frameshift_deletion"},{"g":"CDKN1A","s":136,"e":137,"t":"frameshift_insertion"},
{"g":"CREBBP","s":8.5,"e":10,"t":"stopgain"},{"g":"CREBBP","s":10,"e":11.5,"t":"frameshift_insertion"},{"g":"CREBBP","s":11.5,"e":13.5,"t":"nonsynonymous_SNV"},{"g":"CREBBP","s":50,"e":51,"t":"stopgain"},{"g":"CREBBP","s":74.5,"e":75.5,"t":"frameshift_deletion"},{"g":"CREBBP","s":75.5,"e":76.5,"t":"frameshift_insertion"},{"g":"CREBBP","s":111,"e":112,"t":"frameshift_deletion"},{"g":"CREBBP","s":114.5,"e":115.5,"t":"nonframeshift_deletion"},
{"g":"ATM","s":10.5,"e":13,"t":"nonsynonymous_SNV"},{"g":"ATM","s":15.5,"e":17,"t":"splicing"},{"g":"ATM","s":25,"e":26,"t":"frameshift_deletion"},{"g":"ATM","s":74.5,"e":76,"t":"nonsynonymous_SNV"},{"g":"ATM","s":112,"e":114,"t":"nonframeshift_deletion"},{"g":"ATM","s":121.5,"e":123,"t":"nonsynonymous_SNV"},{"g":"ATM","s":123,"e":124,"t":"frameshift_insertion"},{"g":"ATM","s":124,"e":125.5,"t":"nonsynonymous_SNV"},
{"g":"EP300","s":9,"e":10,"t":"stopgain"},{"g":"EP300","s":10,"e":11,"t":"frameshift_deletion"},{"g":"EP300","s":14.5,"e":15.5,"t":"nonsynonymous_SNV"},{"g":"EP300","s":30.5,"e":31.5,"t":"nonsynonymous_SNV"},{"g":"EP300","s":43,"e":44,"t":"nonsynonymous_SNV"},{"g":"EP300","s":52,"e":53,"t":"nonsynonymous_SNV"},{"g":"EP300","s":88,"e":89,"t":"nonframeshift_deletion"},{"g":"EP300","s":98.5,"e":100,"t":"nonframeshift_deletion"},{"g":"EP300","s":111,"e":112,"t":"frameshift_deletion"},{"g":"EP300","s":114,"e":115,"t":"nonsynonymous_SNV"},{"g":"EP300","s":121,"e":122,"t":"frameshift_insertion"},
{"g":"BRCA2","s":1,"e":3.5,"t":"frameshift_deletion"},{"g":"BRCA2","s":45.5,"e":46.5,"t":"nonsynonymous_SNV"},{"g":"BRCA2","s":55.5,"e":56.8,"t":"stopgain"},{"g":"BRCA2","s":88,"e":89,"t":"frameshift_insertion"},{"g":"BRCA2","s":112.5,"e":114,"t":"stopgain"},{"g":"BRCA2","s":132.5,"e":134,"t":"frameshift_deletion"},
{"g":"NCOR1","s":1,"e":2,"t":"nonframeshift_deletion"},{"g":"NCOR1","s":13,"e":14.5,"t":"nonsynonymous_SNV"},{"g":"NCOR1","s":32.5,"e":33.5,"t":"frameshift_insertion"},{"g":"NCOR1","s":41,"e":42,"t":"nonframeshift_deletion"},{"g":"NCOR1","s":46.5,"e":47.7,"t":"nonsynonymous_SNV"},{"g":"NCOR1","s":50,"e":51,"t":"nonsynonymous_SNV"},{"g":"NCOR1","s":56.5,"e":58,"t":"frameshift_insertion"},{"g":"NCOR1","s":75,"e":76,"t":"nonsynonymous_SNV"},{"g":"NCOR1","s":126,"e":127,"t":"frameshift_insertion"},
{"g":"ATRX","s":6,"e":8,"t":"nonframeshift_deletion"},{"g":"ATRX","s":11,"e":12,"t":"nonsynonymous_SNV"},{"g":"ATRX","s":43,"e":44,"t":"frameshift_deletion"},{"g":"ATRX","s":51,"e":52,"t":"frameshift_deletion"},{"g":"ATRX","s":84,"e":85,"t":"stopgain"},{"g":"ATRX","s":86,"e":87,"t":"nonsynonymous_SNV"},{"g":"ATRX","s":100,"e":101,"t":"stopgain"},{"g":"ATRX","s":112,"e":113,"t":"frameshift_deletion"},{"g":"ATRX","s":121.5,"e":124,"t":"nonsynonymous_SNV"},{"g":"ATRX","s":125.5,"e":127,"t":"frameshift_deletion"},
{"g":"APC","s":7,"e":8.5,"t":"stopgain"},{"g":"APC","s":17,"e":18,"t":"stopgain"},{"g":"APC","s":37,"e":38,"t":"nonframeshift_deletion"},{"g":"APC","s":50,"e":51,"t":"nonsynonymous_SNV"},{"g":"APC","s":55.5,"e":58,"t":"nonsynonymous_SNV"},{"g":"APC","s":84,"e":85,"t":"nonsynonymous_SNV"},
{"g":"ELF3","s":8.5,"e":10,"t":"stopgain"},{"g":"ELF3","s":12,"e":13,"t":"nonsynonymous_SNV"},{"g":"ELF3","s":26.5,"e":27.5,"t":"frameshift_insertion"},{"g":"ELF3","s":29.5,"e":30.5,"t":"frameshift_insertion"},{"g":"ELF3","s":31.5,"e":33,"t":"frameshift_deletion"},{"g":"ELF3","s":42,"e":43,"t":"frameshift_insertion"},{"g":"ELF3","s":76,"e":77,"t":"nonsynonymous_SNV"},{"g":"ELF3","s":77.5,"e":78.5,"t":"nonsynonymous_SNV"},{"g":"ELF3","s":79,"e":80,"t":"frameshift_insertion"},{"g":"ELF3","s":82,"e":83,"t":"frameshift_insertion"},{"g":"ELF3","s":84.5,"e":85.5,"t":"frameshift_insertion"},{"g":"ELF3","s":116.5,"e":119,"t":"frameshift_deletion"},
{"g":"STAG2","s":17,"e":18,"t":"nonsynonymous_SNV"},{"g":"STAG2","s":20,"e":21,"t":"nonsynonymous_SNV"},{"g":"STAG2","s":23.5,"e":26,"t":"stopgain"},{"g":"STAG2","s":54,"e":55,"t":"nonsynonymous_SNV"},{"g":"STAG2","s":55,"e":56,"t":"stopgain"},{"g":"STAG2","s":84,"e":85,"t":"nonsynonymous_SNV"},{"g":"STAG2","s":100,"e":101,"t":"nonsynonymous_SNV"},{"g":"STAG2","s":101,"e":102,"t":"stopgain"},{"g":"STAG2","s":111,"e":112,"t":"frameshift_deletion"},{"g":"STAG2","s":127,"e":128,"t":"stopgain"},
{"g":"FGFR3","s":14.5,"e":16.5,"t":"nonsynonymous_SNV"},{"g":"FGFR3","s":25,"e":26,"t":"nonsynonymous_SNV"},{"g":"FGFR3","s":40.5,"e":41.5,"t":"nonsynonymous_SNV"},{"g":"FGFR3","s":44,"e":45,"t":"nonsynonymous_SNV"},{"g":"FGFR3","s":75,"e":76,"t":"nonsynonymous_SNV"},{"g":"FGFR3","s":78,"e":79,"t":"nonsynonymous_SNV"},{"g":"FGFR3","s":102,"e":103,"t":"nonsynonymous_SNV"},{"g":"FGFR3","s":111,"e":112,"t":"nonsynonymous_SNV"},{"g":"FGFR3","s":116.5,"e":118,"t":"nonsynonymous_SNV"},
{"g":"ARID1B","s":9,"e":11,"t":"nonsynonymous_SNV"},{"g":"ARID1B","s":11,"e":12.5,"t":"frameshift_insertion"},{"g":"ARID1B","s":29.5,"e":32,"t":"stopgain"},{"g":"ARID1B","s":35.5,"e":37.5,"t":"stopgain"},{"g":"ARID1B","s":46.5,"e":48.5,"t":"stopgain"},{"g":"ARID1B","s":48.5,"e":50,"t":"nonsynonymous_SNV"},{"g":"ARID1B","s":76,"e":77,"t":"nonsynonymous_SNV"},{"g":"ARID1B","s":81.5,"e":84,"t":"frameshift_deletion"},{"g":"ARID1B","s":84,"e":85.5,"t":"nonframeshift_insertion"},
{"g":"PIK3CA","s":0,"e":1.5,"t":"frameshift_insertion"},{"g":"PIK3CA","s":4,"e":5.5,"t":"nonsynonymous_SNV"},{"g":"PIK3CA","s":11,"e":12,"t":"nonsynonymous_SNV"},{"g":"PIK3CA","s":36,"e":37,"t":"nonsynonymous_SNV"},{"g":"PIK3CA","s":51,"e":52,"t":"nonsynonymous_SNV"},{"g":"PIK3CA","s":75,"e":76,"t":"nonsynonymous_SNV"},{"g":"PIK3CA","s":85,"e":86,"t":"nonsynonymous_SNV"},{"g":"PIK3CA","s":93,"e":94,"t":"nonsynonymous_SNV"},{"g":"PIK3CA","s":116,"e":118,"t":"nonsynonymous_SNV"},{"g":"PIK3CA","s":118.5,"e":120.5,"t":"nonsynonymous_SNV"},{"g":"PIK3CA","s":120.5,"e":121.5,"t":"frameshift_deletion"},
{"g":"BRCA1","s":1,"e":2.5,"t":"frameshift_deletion"},{"g":"BRCA1","s":27,"e":28,"t":"frameshift_deletion"},{"g":"BRCA1","s":31.5,"e":33.5,"t":"nonsynonymous_SNV"},{"g":"BRCA1","s":53,"e":54,"t":"frameshift_deletion"},{"g":"BRCA1","s":83,"e":84,"t":"nonsynonymous_SNV"},{"g":"BRCA1","s":112.5,"e":114.5,"t":"nonsynonymous_SNV"},{"g":"BRCA1","s":123.5,"e":125,"t":"frameshift_deletion"},{"g":"BRCA1","s":128.5,"e":129.5,"t":"nonsynonymous_SNV"},{"g":"BRCA1","s":130,"e":131.5,"t":"stopgain"},
{"g":"KMT2D","s":0,"e":5,"t":"stopgain"},{"g":"KMT2D","s":5,"e":6.5,"t":"frameshift_deletion"},{"g":"KMT2D","s":13.5,"e":15.5,"t":"nonsynonymous_SNV"},{"g":"KMT2D","s":16,"e":20,"t":"stopgain"},{"g":"KMT2D","s":20,"e":23,"t":"nonsynonymous_SNV"},{"g":"KMT2D","s":25,"e":26.5,"t":"stopgain"},{"g":"KMT2D","s":41,"e":42,"t":"frameshift_insertion"},{"g":"KMT2D","s":65.5,"e":67,"t":"frameshift_insertion"},{"g":"KMT2D","s":74.5,"e":79,"t":"nonsynonymous_SNV"},{"g":"KMT2D","s":79.5,"e":81.5,"t":"stopgain"},{"g":"KMT2D","s":84.5,"e":89.5,"t":"nonframeshift_deletion"},{"g":"KMT2D","s":90.5,"e":92,"t":"nonsynonymous_SNV"},
{"g":"KMT2C","s":3,"e":4.5,"t":"frameshift_deletion"},{"g":"KMT2C","s":17,"e":18,"t":"stopgain"},{"g":"KMT2C","s":25,"e":26,"t":"frameshift_deletion"},{"g":"KMT2C","s":41,"e":42,"t":"stopgain"},{"g":"KMT2C","s":75,"e":76.5,"t":"nonframeshift_deletion"},{"g":"KMT2C","s":76.5,"e":77.5,"t":"frameshift_deletion"},{"g":"KMT2C","s":85,"e":88,"t":"frameshift_deletion"},{"g":"KMT2C","s":98.5,"e":100,"t":"nonsynonymous_SNV"},{"g":"KMT2C","s":105,"e":109.5,"t":"stopgain"},{"g":"KMT2C","s":110,"e":111,"t":"nonsynonymous_SNV"}],
"pathways":[{"n":"TP53","k":"Oncogenic","v":48.5},{"n":"TP53","k":"Non-Oncogenic","v":-2.1},{"n":"DDR","k":"Oncogenic","v":26.4},{"n":"DDR","k":"Non-Oncogenic","v":-22.4},{"n":"RTK/RAS","k":"Oncogenic","v":26.1},{"n":"RTK/RAS","k":"Non-Oncogenic","v":-19.7},{"n":"NOTCH","k":"Oncogenic","v":20.8},{"n":"NOTCH","k":"Non-Oncogenic","v":-13.9},{"n":"PI3K","k":"Oncogenic","v":17.6},{"n":"PI3K","k":"Non-Oncogenic","v":-9.9},{"n":"Cell Cycle","k":"Oncogenic","v":15.5},{"n":"Cell Cycle","k":"Non-Oncogenic","v":-5.6},{"n":"WNT","k":"Oncogenic","v":9.1},{"n":"WNT","k":"Non-Oncogenic","v":-11.5},{"n":"HIPPO","k":"Oncogenic","v":2.2},{"n":"HIPPO","k":"Non-Oncogenic","v":-7.5},{"n":"NRF2","k":"Oncogenic","v":1.4},{"n":"NRF2","k":"Non-Oncogenic","v":-2.7},{"n":"TGF-β","k":"Oncogenic","v":1.4},{"n":"TGF-β","k":"Non-Oncogenic","v":-4.3},{"n":"MYC","k":"Oncogenic","v":1.1},{"n":"MYC","k":"Non-Oncogenic","v":-3.2}],
"action":[{"g":"ARID1A","l":"Level 4","v":12.2},{"g":"ARID1A","l":"Level 4","v":-15.2},{"g":"FGFR3","l":"Level 3B","v":7.5},{"g":"FGFR3","l":"Level 3B","v":-3.5},{"g":"PIK3CA","l":"Level 3B","v":6.8},{"g":"PIK3CA","l":"Level 3B","v":-5.2},{"g":"BRCA2","l":"Level 1","v":5.3},{"g":"BRCA2","l":"Level 1","v":-3.5},{"g":"HRAS","l":"Level 3B","v":5.3},{"g":"HRAS","l":"Level 3B","v":-6},{"g":"ATM","l":"Level 1","v":3.8},{"g":"ATM","l":"Level 1","v":-6},{"g":"BRCA1","l":"Level 1","v":3.8},{"g":"BRCA1","l":"Level 1","v":-1.7},{"g":"EGFR","l":"Level 3B","v":3.8},{"g":"EGFR","l":"Level 3B","v":-1.7},{"g":"CDKN2A","l":"Level 4","v":3},{"g":"CDKN2A","l":"Level 4","v":-4.3},{"g":"ERBB2","l":"Level 3B","v":3},{"g":"ERBB2","l":"Level 3B","v":-1.7},{"g":"CDK12","l":"Level 1","v":2.2},{"g":"CDK12","l":"Level 1","v":-1.7},{"g":"FGFR2","l":"Level 4","v":2.2},{"g":"NF1","l":"Level 4","v":2.2},{"g":"NF1","l":"Level 4","v":-2.6},{"g":"PTEN","l":"Level 4","v":2.2},{"g":"PTEN","l":"Level 4","v":-1.7},{"g":"TSC1","l":"Level 3B","v":2.2},{"g":"TSC1","l":"Level 3B","v":-4.3},{"g":"CHEK2","l":"Level 1","v":1.5},{"g":"CHEK2","l":"Level 1","v":-0.9},{"g":"ERCC2","l":"Level 3B","v":1.5},{"g":"ERCC2","l":"Level 3B","v":-7.7},{"g":"KRAS","l":"Level 4","v":1.5},{"g":"KRAS","l":"Level 4","v":-3.5},{"g":"KRAS","l":"Level 3B","v":-0.8},{"g":"PTCH1","l":"Level 3B","v":1.5},{"g":"TSC2","l":"Level 3B","v":1.5},{"g":"TSC2","l":"Level 3B","v":-1.7},{"g":"BARD1","l":"Level 1","v":0.7},{"g":"BRIP1","l":"Level 1","v":0.7},{"g":"BRIP1","l":"Level 1","v":-1.7},{"g":"FANCL","l":"Level 1","v":0.7},{"g":"PALB2","l":"Level 1","v":0.7},{"g":"PALB2","l":"Level 1","v":-2.6},{"g":"RAD51B","l":"Level 1","v":0.7},{"g":"RAD51B","l":"Level 1","v":-0.9},{"g":"RAD51D","l":"Level 1","v":0.7},{"g":"BRAF","l":"Level 4","v":0.7},{"g":"BRAF","l":"Level 4","v":-0.9},{"g":"BRAF","l":"Level 3B","v":-0.8},{"g":"RAD51C","l":"Level 1","v":-0.9},{"g":"MTOR","l":"Level 4","v":-1.7},{"g":"AKT1","l":"Level 3B","v":-4.3}]
},
"hconcat":[
{"columns":2,"bounds":"flush","align":"each","spacing":{"column":24,"row":1.4},"resolve":{"scale":{"color":"independent"}},"concat":[
{"width":134,"height":50.3,"title":{"text":"A","anchor":"start","frame":"group","dx":-39,"offset":1,"fontSize":11,"fontWeight":"bold"},"data":{"name":"barsL"},"layer":[
{"mark":{"type":"bar","width":1.5,"orient":"vertical","opacity":0.62,"color":"#3f6f9e"},"encoding":{"x":{"field":"p","type":"quantitative","scale":{"domain":[0,134]},"axis":null},"y":{"field":"b","type":"quantitative","stack":null,"scale":{"domain":[0,12.48]},"axis":{"values":[0,5,10],"title":null,"labelFontSize":8,"labelColor":"#333","grid":false,"tickSize":2,"domain":false,"tickColor":"#666","labelPadding":2}}}},
{"transform":[{"filter":"datum.h"}],"mark":{"type":"bar","width":1.5,"orient":"vertical","opacity":0.55},"encoding":{"x":{"field":"p","type":"quantitative"},"y":{"field":"b","type":"quantitative"},"y2":{"field":"h"},"color":{"field":"t","type":"nominal","legend":null,"scale":{"domain":["nonsynonymous_SNV","frameshift_insertion","frameshift_substitution","frameshift_deletion","ncRNA_exonic","stoploss","stopgain","splicing","nonframeshift_substitution","nonframeshift_deletion","nonframeshift_insertion"],"range":["#3f6f9e","#2fbf9f","#2f9fe0","#d98f2b","#e86aa6","#b36cb0","#ada23c","#9b8ec4","#3cb371","#6fb04c","#28b4d6"]}}}},
{"transform":[{"filter":"datum.h2"}],"mark":{"type":"bar","width":1.5,"orient":"vertical","opacity":0.55},"encoding":{"x":{"field":"p","type":"quantitative"},"y":{"field":"h","type":"quantitative"},"y2":{"field":"h2"},"color":{"field":"t2","type":"nominal","legend":null}}},
{"data":{"values":[{"a":0,"lo":0,"hi":10.3}]},"mark":{"type":"rule","color":"#666"},"encoding":{"x":{"field":"a","type":"quantitative"},"y":{"field":"lo","type":"quantitative"},"y2":{"field":"hi"}}}
]},
{"width":149,"height":50.3,"data":{"name":"barsR"},"layer":[
{"mark":{"type":"bar","width":1.5,"orient":"vertical","opacity":0.62,"color":"#3f6f9e"},"encoding":{"x":{"field":"p","type":"quantitative","scale":{"domain":[0,149]},"axis":null},"y":{"field":"b","type":"quantitative","stack":null,"scale":{"domain":[0,12.48]},"axis":{"values":[0,5,10],"title":null,"labelFontSize":8,"labelColor":"#333","grid":false,"tickSize":2,"domain":false,"tickColor":"#666","labelPadding":2}}}},
{"transform":[{"filter":"datum.h"}],"mark":{"type":"bar","width":1.5,"orient":"vertical","opacity":0.55},"encoding":{"x":{"field":"p","type":"quantitative"},"y":{"field":"b","type":"quantitative"},"y2":{"field":"h"},"color":{"field":"t","type":"nominal","legend":null,"scale":{"domain":["nonsynonymous_SNV","frameshift_insertion","frameshift_substitution","frameshift_deletion","ncRNA_exonic","stoploss","stopgain","splicing","nonframeshift_substitution","nonframeshift_deletion","nonframeshift_insertion"],"range":["#3f6f9e","#2fbf9f","#2f9fe0","#d98f2b","#e86aa6","#b36cb0","#ada23c","#9b8ec4","#3cb371","#6fb04c","#28b4d6"]}}}},
{"transform":[{"filter":"datum.h2"}],"mark":{"type":"bar","width":1.5,"orient":"vertical","opacity":0.55},"encoding":{"x":{"field":"p","type":"quantitative"},"y":{"field":"h","type":"quantitative"},"y2":{"field":"h2"},"color":{"field":"t2","type":"nominal","legend":null}}},
{"data":{"values":[{"a":0,"lo":0,"hi":10.3}]},"mark":{"type":"rule","color":"#666"},"encoding":{"x":{"field":"a","type":"quantitative"},"y":{"field":"lo","type":"quantitative"},"y2":{"field":"hi"}}}
]},
{"width":134,"height":57,"resolve":{"scale":{"color":"independent"}},"layer":[
{"data":{"values":[{"tr":"Subtype","s":0,"e":134,"v":"UCB"}]},"mark":"rect","encoding":{"x":{"field":"s","type":"quantitative","scale":{"domain":[0,134]},"axis":null},"x2":{"field":"e"},"y":{"field":"tr","type":"nominal","scale":{"domain":["Subtype","Gender","Age","Stage","Smoking"],"paddingInner":0.1,"paddingOuter":0},"axis":null},"color":{"field":"v","type":"nominal","legend":null,"scale":{"domain":["UCB","UTUC"],"range":["#2054a8","#ee2f2f"]}}}},
{"data":{"name":"genderL"},"mark":"rect","encoding":{"x":{"field":"s","type":"quantitative"},"x2":{"field":"e"},"y":{"field":"tr","type":"nominal"},"color":{"field":"v","type":"nominal","legend":null,"scale":{"domain":["Male","Female"],"range":["#ee2f2f","#000000"]}}}},
{"data":{"name":"ageL"},"mark":"rect","encoding":{"x":{"field":"s","type":"quantitative"},"x2":{"field":"e"},"y":{"field":"tr","type":"nominal"},"color":{"field":"v","type":"quantitative","legend":null,"scale":{"domain":[20,100],"range":["#f6f4fb","#4f4a9f"]}}}},
{"data":{"name":"stageL"},"mark":"rect","encoding":{"x":{"field":"s","type":"quantitative"},"x2":{"field":"e"},"y":{"field":"tr","type":"nominal"},"color":{"field":"v","type":"nominal","legend":null,"scale":{"domain":["I","II","III","IV"],"range":["#e3e9f5","#aecde3","#6baad3","#2f72b4"]}}}},
{"data":{"values":[{"tr":"Smoking","s":0,"e":134}]},"mark":{"type":"rect","color":"#c5c5c8"},"encoding":{"x":{"field":"s","type":"quantitative"},"x2":{"field":"e"},"y":{"field":"tr","type":"nominal"}}},
{"data":{"name":"smokeL"},"mark":"rect","encoding":{"x":{"field":"s","type":"quantitative"},"x2":{"field":"e"},"y":{"field":"tr","type":"nominal"},"color":{"field":"v","type":"nominal","legend":null,"scale":{"domain":["No","Yes"],"range":["#2170b8","#e8b32e"]}}}}
]},
{"width":149,"height":57,"resolve":{"scale":{"color":"independent"}},"layer":[
{"data":{"values":[{"tr":"Subtype","s":0,"e":149,"v":"UTUC"}]},"mark":"rect","encoding":{"x":{"field":"s","type":"quantitative","scale":{"domain":[0,149]},"axis":null},"x2":{"field":"e"},"y":{"field":"tr","type":"nominal","scale":{"domain":["Subtype","Gender","Age","Stage","Smoking"],"paddingInner":0.1,"paddingOuter":0},"axis":null},"color":{"field":"v","type":"nominal","legend":{"title":"Subtype","orient":"none","legendX":179,"legendY":61},"scale":{"domain":["UCB","UTUC"],"range":["#2054a8","#ee2f2f"]}}}},
{"data":{"name":"genderR"},"mark":"rect","encoding":{"x":{"field":"s","type":"quantitative"},"x2":{"field":"e"},"y":{"field":"tr","type":"nominal"},"color":{"field":"v","type":"nominal","legend":{"title":"Gender","orient":"none","legendX":179,"legendY":96.5},"scale":{"domain":["Female","Male"],"range":["#000000","#ee2f2f"]}}}},
{"data":{"name":"ageR"},"mark":"rect","encoding":{"x":{"field":"s","type":"quantitative"},"x2":{"field":"e"},"y":{"field":"tr","type":"nominal"},"color":{"field":"v","type":"quantitative","legend":{"title":"Age","orient":"none","legendX":179,"legendY":129,"gradientLength":43,"gradientThickness":9,"direction":"vertical","values":[20,40,60,80,100]},"scale":{"domain":[20,100],"range":["#f6f4fb","#4f4a9f"]}}}},
{"data":{"name":"stageR"},"mark":"rect","encoding":{"x":{"field":"s","type":"quantitative"},"x2":{"field":"e"},"y":{"field":"tr","type":"nominal"},"color":{"field":"v","type":"nominal","legend":{"title":"Stage","orient":"none","legendX":179,"legendY":194},"scale":{"domain":["I","II","III","IV"],"range":["#e3e9f5","#aecde3","#6baad3","#2f72b4"]}}}},
{"data":{"values":[{"tr":"Smoking","s":0,"e":149}]},"mark":{"type":"rect","color":"#c5c5c8"},"encoding":{"x":{"field":"s","type":"quantitative"},"x2":{"field":"e"},"y":{"field":"tr","type":"nominal"}}},
{"data":{"name":"smokeR"},"mark":"rect","encoding":{"x":{"field":"s","type":"quantitative"},"x2":{"field":"e"},"y":{"field":"tr","type":"nominal"},"color":{"field":"v","type":"nominal","legend":{"title":"Smoking","orient":"none","legendX":179,"legendY":246},"scale":{"domain":["No","Yes"],"range":["#2170b8","#e8b32e"]}}}}
]},
{"width":134,"height":234.6,"resolve":{"scale":{"color":"independent"}},"layer":[
{"data":{"name":"rowsL"},"mark":{"type":"bar","color":"#c5c5c8"},"encoding":{"x":{"field":"n","type":"quantitative","stack":null,"scale":{"domain":[0,134]},"axis":null},"y":{"field":"g","type":"nominal","scale":{"domain":["TP53","ARID1A","KDM6A","CDKN1A","CREBBP","ATM","EP300","BRCA2","NCOR1","ATRX","APC","ELF3","STAG2","FGFR3","ARID1B","PIK3CA","BRCA1","KMT2D","KMT2C"],"paddingInner":0.13,"paddingOuter":0.1},"axis":{"title":null,"domain":false,"ticks":false,"labelPadding":4,"labelFontSize":8.5,"labelFontStyle":"italic","labelColor":"#222"}}}},
{"data":{"name":"mutL"},"transform":[{"filter":"datum.t!='nonframeshift_deletion'&&datum.t!='nonframeshift_insertion'"}],"mark":{"type":"rect","opacity":0.85},"encoding":{"x":{"field":"s","type":"quantitative"},"x2":{"field":"e"},"y":{"field":"g","type":"nominal"},"color":{"field":"t","type":"nominal","scale":{"domain":["nonsynonymous_SNV","frameshift_insertion","frameshift_substitution","frameshift_deletion","ncRNA_exonic","stoploss","stopgain","splicing","nonframeshift_substitution"],"range":["#3f6f9e","#2fbf9f","#2f9fe0","#d98f2b","#e86aa6","#b36cb0","#ada23c","#9b8ec4","#3cb371"]},"legend":{"title":null,"orient":"none","legendX":0.7,"legendY":243,"columns":3,"symbolSize":49,"rowPadding":3.2,"columnPadding":7.3,"labelOffset":3,"labelColor":"#444","labelFontSize":7.5,"labelLimit":200}}}},
{"data":{"name":"mutL"},"transform":[{"filter":"datum.t=='nonframeshift_deletion'||datum.t=='nonframeshift_insertion'"}],"mark":{"type":"rect","opacity":0.85},"encoding":{"x":{"field":"s","type":"quantitative"},"x2":{"field":"e"},"y":{"field":"g","type":"nominal"},"color":{"field":"t","type":"nominal","scale":{"domain":["nonframeshift_deletion","nonframeshift_insertion"],"range":["#6fb04c","#28b4d6"]},"legend":{"title":null,"orient":"none","legendX":220,"legendY":243,"symbolSize":49,"rowPadding":3.2,"labelOffset":3,"labelColor":"#444","labelFontSize":7.5,"labelLimit":200}}}},
{"data":{"name":"rowsL"},"mark":{"type":"text","align":"left","dx":1.7,"fontSize":9,"color":"#222"},"encoding":{"x":{"field":"n","type":"quantitative"},"y":{"field":"g","type":"nominal"},"text":{"field":"p"}}}
]},
{"width":149,"height":234.6,"layer":[
{"data":{"name":"rowsR"},"mark":{"type":"bar","color":"#c5c5c8"},"encoding":{"x":{"field":"n","type":"quantitative","stack":null,"scale":{"domain":[0,149]},"axis":null},"y":{"field":"g","type":"nominal","scale":{"domain":["TP53","ARID1A","KDM6A","CDKN1A","CREBBP","ATM","EP300","BRCA2","NCOR1","ATRX","APC","ELF3","STAG2","FGFR3","ARID1B","PIK3CA","BRCA1","KMT2D","KMT2C"],"paddingInner":0.13,"paddingOuter":0.1},"axis":null}}},
{"data":{"name":"mutR"},"mark":{"type":"rect","opacity":0.85},"encoding":{"x":{"field":"s","type":"quantitative"},"x2":{"field":"e"},"y":{"field":"g","type":"nominal"},"color":{"field":"t","type":"nominal","legend":null,"scale":{"domain":["nonsynonymous_SNV","frameshift_insertion","frameshift_substitution","frameshift_deletion","ncRNA_exonic","stoploss","stopgain","splicing","nonframeshift_substitution","nonframeshift_deletion","nonframeshift_insertion"],"range":["#3f6f9e","#2fbf9f","#2f9fe0","#d98f2b","#e86aa6","#b36cb0","#ada23c","#9b8ec4","#3cb371","#6fb04c","#28b4d6"]}}}},
{"data":{"name":"rowsR"},"mark":{"type":"text","align":"left","dx":1,"fontSize":9,"color":"#222"},"encoding":{"x":{"field":"n","type":"quantitative"},"y":{"field":"g","type":"nominal"},"text":{"field":"p"}}}
]}
]},
{"vconcat":[
{"width":256.5,"height":158,"title":{"text":"B","anchor":"start","frame":"group","dx":-38,"offset":1,"fontSize":11,"fontWeight":"bold"},"data":{"name":"pathways"},"mark":{"type":"bar","stroke":"#dfe3ee","strokeWidth":0.6},"encoding":{"x":{"field":"n","type":"nominal","scale":{"domain":["TP53","DDR","RTK/RAS","NOTCH","PI3K","Cell Cycle","WNT","HIPPO","NRF2","TGF-β","MYC"],"paddingInner":0.12,"paddingOuter":0.19},"axis":{"title":null,"labelAngle":-75,"labelAlign":"right","labelBaseline":"middle","labelFontSize":8.5,"labelFontStyle":"italic","labelColor":"#333","tickSize":3,"domainColor":"#555","tickColor":"#555","domainWidth":1,"labelPadding":3}},"y":{"field":"v","type":"quantitative","stack":null,"scale":{"domain":[-25.8,50.1],"nice":false},"axis":{"values":[-20,0,20,40],"labelExpr":"abs(datum.value)+'%'","grid":false,"title":"Proportion of Altered Samples","titleFontSize":8,"titleFontWeight":"normal","titleColor":"#333","titlePadding":6,"labelFontSize":9,"labelColor":"#333","tickSize":3,"domainColor":"#555","tickColor":"#555"}},"color":{"field":"k","type":"nominal","scale":{"domain":["Oncogenic","Non-Oncogenic"],"range":["#e3b236","#2359a8"]},"legend":{"title":null,"orient":"none","legendX":195,"legendY":19,"symbolSize":100,"rowPadding":0,"labelFontSize":8,"labelOffset":3}}}},
{"width":284,"height":143,"title":{"text":"C","anchor":"start","frame":"group","dx":-38,"offset":7,"fontSize":11,"fontWeight":"bold"},"layer":[
{"data":{"name":"action"},"mark":{"type":"bar"},"encoding":{"x":{"field":"g","type":"nominal","scale":{"domain":["ARID1A","FGFR3","PIK3CA","BRCA2","HRAS","ATM","BRCA1","EGFR","CDKN2A","ERBB2","CDK12","FGFR2","NF1","PTEN","TSC1","CHEK2","ERCC2","KRAS","PTCH1","TSC2","BARD1","BRIP1","FANCL","PALB2","RAD51B","RAD51D","BRAF","RAD51C","MTOR","AKT1"],"paddingInner":0.06,"paddingOuter":0.03},"axis":{"title":null,"labelAngle":-75,"labelAlign":"right","labelBaseline":"middle","labelFontSize":8,"labelFontStyle":"italic","labelColor":"#333","tickSize":2,"domainColor":"#555","tickColor":"#555","domainWidth":1,"labelPadding":2}},"y":{"field":"v","type":"quantitative","scale":{"domain":[-16.5,13.5],"nice":false},"axis":{"values":[-10,0,10],"labelExpr":"abs(datum.value)+'%'","grid":false,"title":"Proportion of Actionable Samples","titleFontSize":8,"titleFontWeight":"normal","titleColor":"#333","titlePadding":8,"labelFontSize":9,"labelColor":"#333","tickSize":3,"domainColor":"#555","tickColor":"#555"}},"color":{"field":"l","type":"nominal","scale":{"domain":["Level 1","Level 3B","Level 4"],"range":["#2f6fb0","#39b54a","#aecde3"]},"legend":{"title":"OncoKB","orient":"none","legendX":238,"legendY":0,"symbolSize":81,"rowPadding":0.5,"labelFontSize":8,"labelOffset":3,"titleFontSize":8,"titleFontWeight":"normal"}}}},
{"data":{"values":[{"z":0}]},"mark":{"type":"rule","color":"#111","strokeWidth":0.8},"encoding":{"y":{"field":"z","type":"quantitative"}}},
{"data":{"values":[{"label":"UTUC","g":"TSC1","v":11.8},{"label":"UCB","g":"TSC1","v":-12.7}]},"mark":{"type":"text","fontSize":9,"color":"#222","dx":3},"encoding":{"x":{"field":"g","type":"nominal"},"y":{"field":"v","type":"quantitative"},"text":{"field":"label"}}}
]}
],"bounds":"flush","spacing":58,"resolve":{"scale":{"color":"independent"}}}
],"spacing":40,"resolve":{"scale":{"color":"independent"}}}
